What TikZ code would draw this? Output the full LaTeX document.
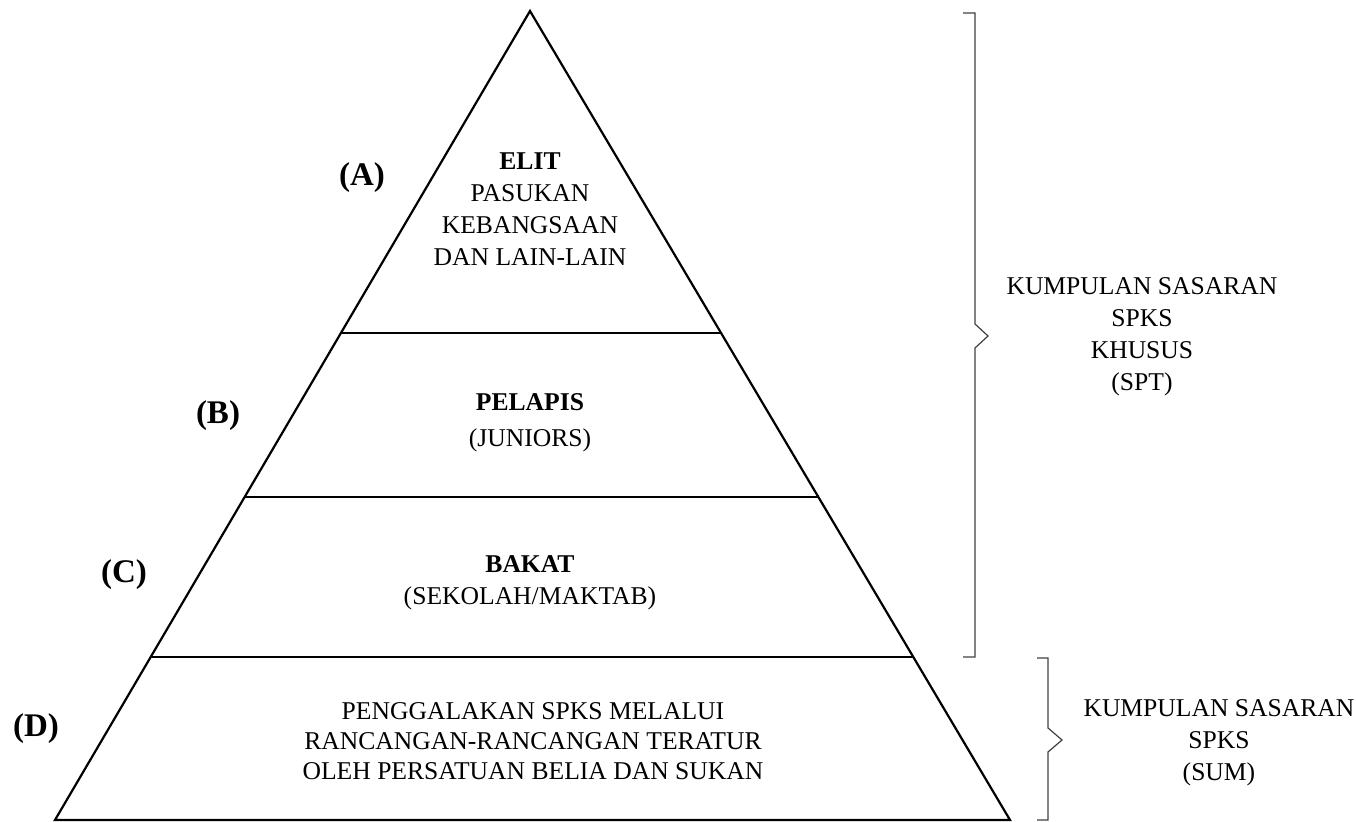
\documentclass[tikz,border=0pt]{standalone}
\usepackage{fontspec}
\setmainfont{Liberation Serif}
\usetikzlibrary{calc}

\begin{document}
\begin{tikzpicture}[x=0.5pt,y=-0.5pt]
    \tikzstyle{every node}=[inner sep=0pt]
    \tikzstyle{tier}=[align=center,font=\fontsize{12.8}{16}\selectfont]
    \tikzstyle{grade}=[font=\fontsize{16.5}{18}\selectfont\bfseries]
    \tikzstyle{side}=[line width=1.1pt,line join=miter]
    \tikzstyle{brace}=[line width=0.6pt,draw=black!75]

    \useasboundingbox (0,0) rectangle (1356,822);

    % the pyramid
    \coordinate (top) at (530,11);
    \coordinate (bl) at (55,820);
    \coordinate (br) at (1010,820);
    \coordinate (l1) at ($(top)!0.398!(bl)$);
    \coordinate (r1) at ($(top)!0.398!(br)$);
    \coordinate (l2) at ($(top)!0.601!(bl)$);
    \coordinate (r2) at ($(top)!0.601!(br)$);
    \coordinate (l3) at ($(top)!0.7985!(bl)$);
    \coordinate (r3) at ($(top)!0.7985!(br)$);
    \draw[side] (top) -- (bl) -- (br) -- cycle;
    \path[side,draw] (l1) edge (r1) (l2) edge (r2) (l3) edge (r3);

    % tiers
    \node[tier] (elit) at (530,209) {{\bfseries ELIT}\\PASUKAN\\KEBANGSAAN\\DAN LAIN-LAIN};
    \node[tier] (pelapis) at (530,423) {{\bfseries PELAPIS}\\[2pt](JUNIORS)};
    \node[tier] (bakat) at (530,583) {{\bfseries BAKAT}\\(SEKOLAH/MAKTAB)};
    \node[tier,font=\fontsize{12.8}{15}\selectfont] (sum) at (533,741)
        {PENGGALAKAN SPKS MELALUI\\RANCANGAN-RANCANGAN TERATUR\\OLEH PERSATUAN BELIA DAN SUKAN};

    \node[grade] (a) at (362,178) {(A)};
    \node[grade] (b) at (218,416) {(B)};
    \node[grade] (c) at (124,575) {(C)};
    \node[grade] (d) at (36,729) {(D)};

    % brackets
    \coordinate (u1) at (963,13);
    \coordinate (u2) at (975,13);
    \coordinate (u3) at (975,324);
    \coordinate (utip) at (988,336);
    \coordinate (u4) at (975,348);
    \coordinate (u5) at (975,657);
    \coordinate (u6) at (963,657);
    \draw[brace] (u1) -- (u2) -- (u3) -- (utip) -- (u4) -- (u5) -- (u6);
    \coordinate (s1) at (1037,658);
    \coordinate (s2) at (1048,658);
    \coordinate (s3) at (1048,728);
    \coordinate (stip) at (1062,740);
    \coordinate (s4) at (1048,752);
    \coordinate (s5) at (1048,820);
    \coordinate (s6) at (1037,820);
    \draw[brace] (s1) -- (s2) -- (s3) -- (stip) -- (s4) -- (s5) -- (s6);

    \node[tier] (spt) at (1142,337) {KUMPULAN SASARAN\\SPKS\\KHUSUS\\(SPT)};
    \node[tier] (sumgroup) at (1219,743) {KUMPULAN SASARAN\\SPKS\\(SUM)};
\end{tikzpicture}
\end{document}
